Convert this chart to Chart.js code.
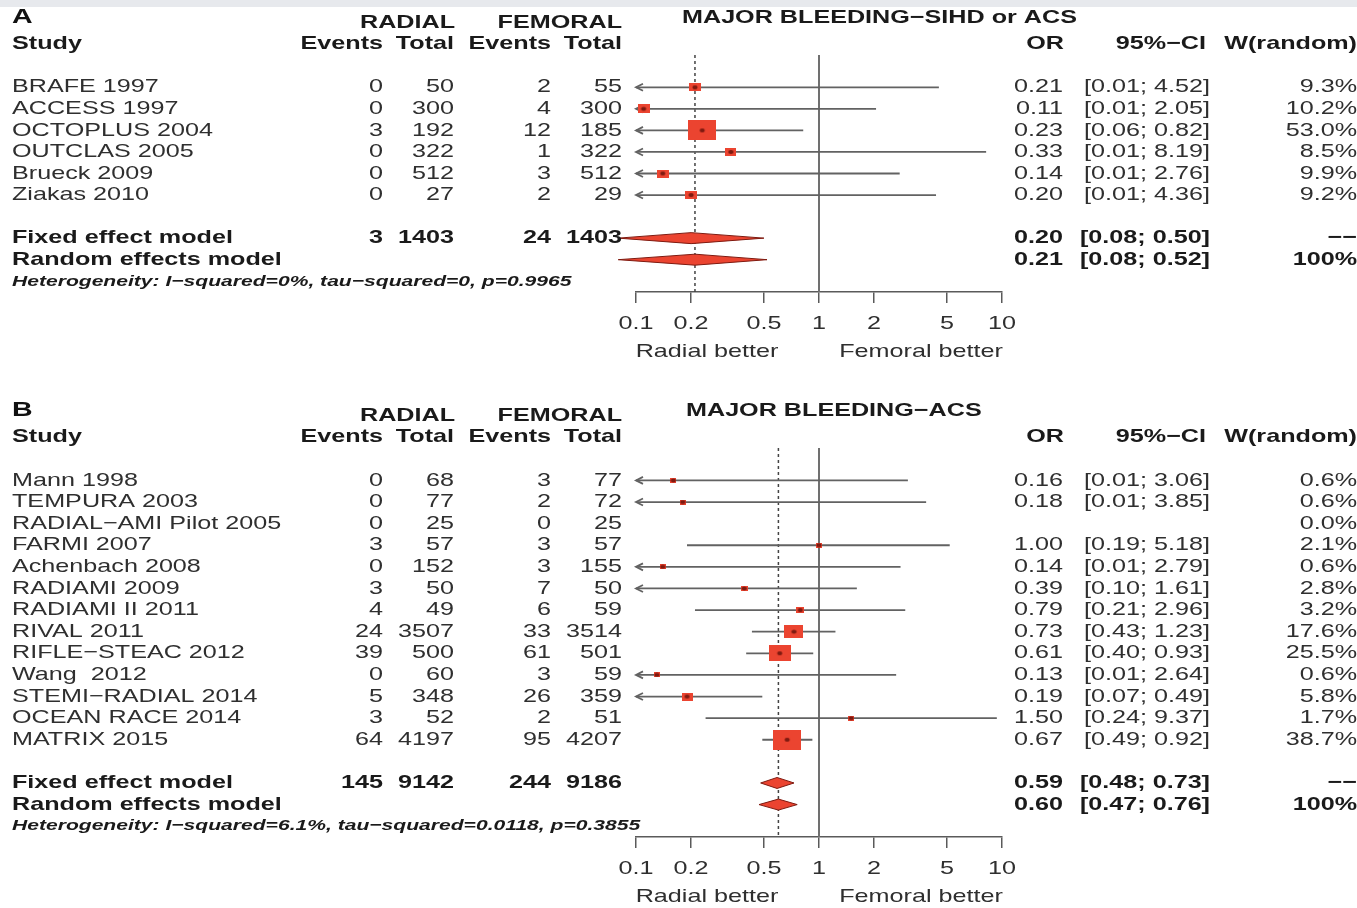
<!DOCTYPE html>
<html>
<head>
<meta charset="utf-8">
<script src="https://cdn.jsdelivr.net/npm/chart.js@4.4.1/dist/chart.umd.min.js"></script>
<style>
  html, body { margin: 0; padding: 0; background: #fff; }
  body { width: 1357px; height: 908px; position: relative; overflow: hidden; }
  .band { position: absolute; left: 0; top: 0; width: 1357px; height: 7px; background: #e7e9ed; }
  canvas { position: absolute; left: 0; }
  #panelA { top: 0; }
  #panelB { top: 390px; }
</style>
</head>
<body>
<div class="band"></div>
<canvas id="panelA" width="1357" height="390"></canvas>
<canvas id="panelB" width="1357" height="518"></canvas>
<script>
// ---- panel A: major bleeding, SIHD or ACS ----
const studiesA = ['BRAFE 1997', 'ACCESS 1997', 'OCTOPLUS 2004', 'OUTCLAS 2005', 'Brueck 2009', 'Ziakas 2010'];
const radEventsA = [0, 0, 3, 0, 0, 0];
const radTotalA = [50, 300, 192, 322, 512, 27];
const femEventsA = [2, 4, 12, 1, 3, 2];
const femTotalA = [55, 300, 185, 322, 512, 29];
const orA = [0.21, 0.11, 0.23, 0.33, 0.14, 0.20];
const loA = [0.01, 0.01, 0.06, 0.01, 0.01, 0.01];
const hiA = [4.52, 2.05, 0.82, 8.19, 2.76, 4.36];
const weightA = [9.3, 10.2, 53.0, 8.5, 9.9, 9.2];
const fixedA = [0.20, 0.08, 0.50];
const randomA = [0.21, 0.08, 0.52];
const totalsA = [3, 1403, 24, 1403];
const hetA = 'Heterogeneity: I\u2212squared=0%, tau\u2212squared=0, p=0.9965';

// ---- panel B: major bleeding, ACS ----
const studiesB = ['Mann 1998', 'TEMPURA 2003', 'RADIAL\u2212AMI Pilot 2005', 'FARMI 2007', 'Achenbach 2008',
  'RADIAMI 2009', 'RADIAMI II 2011', 'RIVAL 2011', 'RIFLE\u2212STEAC 2012', 'Wang  2012',
  'STEMI\u2212RADIAL 2014', 'OCEAN RACE 2014', 'MATRIX 2015'];
const radEventsB = [0, 0, 0, 3, 0, 3, 4, 24, 39, 0, 5, 3, 64];
const radTotalB = [68, 77, 25, 57, 152, 50, 49, 3507, 500, 60, 348, 52, 4197];
const femEventsB = [3, 2, 0, 3, 3, 7, 6, 33, 61, 3, 26, 2, 95];
const femTotalB = [77, 72, 25, 57, 155, 50, 59, 3514, 501, 59, 359, 51, 4207];
const orB = [0.16, 0.18, null, 1.00, 0.14, 0.39, 0.79, 0.73, 0.61, 0.13, 0.19, 1.50, 0.67];
const loB = [0.01, 0.01, null, 0.19, 0.01, 0.10, 0.21, 0.43, 0.40, 0.01, 0.07, 0.24, 0.49];
const hiB = [3.06, 3.85, null, 5.18, 2.79, 1.61, 2.96, 1.23, 0.93, 2.64, 0.49, 9.37, 0.92];
const weightB = [0.6, 0.6, 0.0, 2.1, 0.6, 2.8, 3.2, 17.6, 25.5, 0.6, 5.8, 1.7, 38.7];
const fixedB = [0.59, 0.48, 0.73];
const randomB = [0.60, 0.47, 0.76];
const totalsB = [145, 9142, 244, 9186];
const hetB = 'Heterogeneity: I\u2212squared=6.1%, tau\u2212squared=0.0118, p=0.3855';

const tickValues = [0.1, 0.2, 0.5, 1, 2, 5, 10];
const tickLabels = ['0.1', '0.2', '0.5', '1', '2', '5', '10'];

// the original figure is stretched sideways, so text is drawn wider than tall
const SX = 1.36;
const FAM = '"Liberation Sans", Arial, Helvetica, sans-serif';
const REG = '18.5px ' + FAM;
const BOLD = 'bold 18.5px ' + FAM;
const INK = '#2f2f2f';
const INK_B = '#1a1a1a';
const RED = '#eb4430';
const RED_DARK = '#7e1a10';
const GREY = '#626262';

// column anchors (right edges unless noted)
const COL = { study: 12, radEv: 383, radTot: 454, femEv: 551, femTot: 622, or: 1063, ci: 1210, w: 1357 };

function txt(ctx, s, x, y, align, font, color) {
  ctx.save();
  ctx.translate(x, y);
  ctx.scale(SX, 1);
  ctx.font = font;
  ctx.fillStyle = color;
  ctx.textAlign = align;
  ctx.textBaseline = 'middle';
  ctx.fillText(s, 0, 0);
  ctx.restore();
}

const boxCache = {};
function boxImage(w, maxW) {
  const key = w + '/' + maxW;
  if (boxCache[key]) return boxCache[key];
  const h = Math.max(4.5, 19.5 * Math.sqrt(w / maxW));
  const bw = h * 1.42;
  const c = document.createElement('canvas');
  c.width = Math.round(bw);
  c.height = Math.round(h);
  const g = c.getContext('2d');
  g.fillStyle = RED;
  g.fillRect(0, 0, c.width, c.height);
  g.fillStyle = RED_DARK;
  g.beginPath();
  g.ellipse(c.width / 2, c.height / 2, 2.6, 2, 0, 0, Math.PI * 2);
  g.fill();
  boxCache[key] = c;
  return c;
}

function fmt2(v) { return v.toFixed(2); }

function forestPlugin(p) {
  return {
    id: 'forest',
    beforeDatasetsDraw(chart) {
      const ctx = chart.ctx, xs = chart.scales.x, ys = chart.scales.y, a = chart.chartArea;
      ctx.save();
      // line of no effect
      ctx.strokeStyle = '#707070';
      ctx.lineWidth = 2;
      const x1 = xs.getPixelForValue(1);
      ctx.beginPath(); ctx.moveTo(x1, a.top); ctx.lineTo(x1, a.bottom); ctx.stroke();
      // random effects estimate
      ctx.strokeStyle = '#444';
      ctx.lineWidth = 1.5;
      ctx.setLineDash([3, 3]);
      const xr = xs.getPixelForValue(p.random[0]);
      ctx.beginPath(); ctx.moveTo(xr, a.top); ctx.lineTo(xr, a.bottom); ctx.stroke();
      ctx.setLineDash([]);
      // confidence intervals
      ctx.strokeStyle = GREY;
      ctx.lineWidth = 1.8;
      p.or.forEach((v, i) => {
        if (v == null) return;
        const y = ys.getPixelForValue(i);
        const clipped = p.lo[i] <= 0.1;
        const xa = xs.getPixelForValue(Math.max(p.lo[i], 0.1));
        const xb = xs.getPixelForValue(Math.min(p.hi[i], 10));
        ctx.beginPath(); ctx.moveTo(xa, y); ctx.lineTo(xb, y); ctx.stroke();
        if (clipped) {
          ctx.beginPath();
          ctx.moveTo(xa + 7, y - 3.5); ctx.lineTo(xa, y); ctx.lineTo(xa + 7, y + 3.5);
          ctx.stroke();
        }
      });
      ctx.restore();
    },
    afterDraw(chart) {
      const ctx = chart.ctx, xs = chart.scales.x, ys = chart.scales.y, a = chart.chartArea;
      const n = p.studies.length;
      // pooled diamonds
      [p.fixed, p.random].forEach((d, k) => {
        const y = ys.getPixelForValue(n + 1 + k);
        const xl = xs.getPixelForValue(d[1]), xm = xs.getPixelForValue(d[0]), xh = xs.getPixelForValue(d[2]);
        ctx.save();
        ctx.beginPath();
        ctx.moveTo(xl, y); ctx.lineTo(xm, y - 5.5); ctx.lineTo(xh, y); ctx.lineTo(xm, y + 5.5); ctx.closePath();
        ctx.fillStyle = RED; ctx.fill();
        ctx.strokeStyle = RED_DARK; ctx.lineWidth = 1; ctx.stroke();
        ctx.restore();
      });

      // headers
      txt(ctx, p.letter, 12, ys.getPixelForValue(-3.25), 'left', 'bold 21px ' + FAM, '#111');
      txt(ctx, 'RADIAL', 455, ys.getPixelForValue(-3), 'right', BOLD, INK_B);
      txt(ctx, 'FEMORAL', 622, ys.getPixelForValue(-3), 'right', BOLD, INK_B);
      txt(ctx, p.title, p.titleX, ys.getPixelForValue(-3.2), 'left', BOLD, INK_B);
      const yh = ys.getPixelForValue(-2);
      txt(ctx, 'Study', COL.study, yh, 'left', BOLD, INK_B);
      txt(ctx, 'Events', COL.radEv, yh, 'right', BOLD, INK_B);
      txt(ctx, 'Total', COL.radTot, yh, 'right', BOLD, INK_B);
      txt(ctx, 'Events', COL.femEv, yh, 'right', BOLD, INK_B);
      txt(ctx, 'Total', COL.femTot, yh, 'right', BOLD, INK_B);
      txt(ctx, 'OR', COL.or + 1, yh, 'right', BOLD, INK_B);
      txt(ctx, '95%\u2212CI', COL.ci - 4, yh, 'right', BOLD, INK_B);
      txt(ctx, 'W(random)', COL.w, yh, 'right', BOLD, INK_B);

      // study rows
      p.studies.forEach((s, i) => {
        const y = ys.getPixelForValue(i);
        txt(ctx, s, COL.study, y, 'left', REG, INK);
        txt(ctx, String(p.radEv[i]), COL.radEv, y, 'right', REG, INK);
        txt(ctx, String(p.radTot[i]), COL.radTot, y, 'right', REG, INK);
        txt(ctx, String(p.femEv[i]), COL.femEv, y, 'right', REG, INK);
        txt(ctx, String(p.femTot[i]), COL.femTot, y, 'right', REG, INK);
        if (p.or[i] != null) {
          txt(ctx, fmt2(p.or[i]), COL.or, y, 'right', REG, INK);
          txt(ctx, '[' + fmt2(p.lo[i]) + '; ' + fmt2(p.hi[i]) + ']', COL.ci, y, 'right', REG, INK);
        }
        txt(ctx, p.weight[i].toFixed(1) + '%', COL.w, y, 'right', REG, INK);
      });

      // pooled rows
      const yf = ys.getPixelForValue(n + 1), yr = ys.getPixelForValue(n + 2);
      txt(ctx, 'Fixed effect model', COL.study, yf, 'left', BOLD, INK_B);
      txt(ctx, String(p.totals[0]), COL.radEv, yf, 'right', BOLD, INK_B);
      txt(ctx, String(p.totals[1]), COL.radTot, yf, 'right', BOLD, INK_B);
      txt(ctx, String(p.totals[2]), COL.femEv, yf, 'right', BOLD, INK_B);
      txt(ctx, String(p.totals[3]), COL.femTot, yf, 'right', BOLD, INK_B);
      txt(ctx, fmt2(p.fixed[0]), COL.or, yf, 'right', BOLD, INK_B);
      txt(ctx, '[' + fmt2(p.fixed[1]) + '; ' + fmt2(p.fixed[2]) + ']', COL.ci, yf, 'right', BOLD, INK_B);
      txt(ctx, '\u2212\u2212', COL.w, yf, 'right', BOLD, INK_B);
      txt(ctx, 'Random effects model', COL.study, yr, 'left', BOLD, INK_B);
      txt(ctx, fmt2(p.random[0]), COL.or, yr, 'right', BOLD, INK_B);
      txt(ctx, '[' + fmt2(p.random[1]) + '; ' + fmt2(p.random[2]) + ']', COL.ci, yr, 'right', BOLD, INK_B);
      txt(ctx, '100%', COL.w, yr, 'right', BOLD, INK_B);
      txt(ctx, p.het, COL.study, ys.getPixelForValue(n + 3), 'left', 'italic bold 15.5px ' + FAM, INK_B);

      // axis labels
      tickValues.forEach((v, i) => {
        txt(ctx, tickLabels[i], xs.getPixelForValue(v), a.bottom + 32, 'center', REG, INK);
      });
      txt(ctx, 'Radial better', 707, a.bottom + 60, 'center', REG, INK);
      txt(ctx, 'Femoral better', 921, a.bottom + 60, 'center', REG, INK);
    }
  };
}

function makePanel(id, p, padTop, padBottom) {
  const maxW = Math.max(...p.weight);
  const pts = [];
  const styles = [];
  p.or.forEach((v, i) => {
    if (v == null) return;
    pts.push({ x: v, y: i });
    styles.push(boxImage(p.weight[i], maxW));
  });
  new Chart(document.getElementById(id), {
    type: 'scatter',
    data: {
      datasets: [{
        data: pts,
        pointStyle: styles,
        pointRadius: 10,
        pointHoverRadius: 10,
        clip: false
      }]
    },
    options: {
      responsive: false,
      animation: false,
      events: [],
      layout: { padding: { left: 636, right: 355, top: padTop, bottom: padBottom } },
      plugins: { legend: { display: false }, tooltip: { enabled: false } },
      scales: {
        x: {
          type: 'logarithmic',
          min: 0.1,
          max: 10,
          afterBuildTicks: (s) => { s.ticks = tickValues.map(v => ({ value: v })); },
          afterFit: (s) => { s.height = 40; },
          grid: { drawOnChartArea: false, drawTicks: true, tickLength: 11, color: '#5a5a5a', lineWidth: 1.5 },
          border: { display: true, color: '#5a5a5a', width: 1.5 },
          ticks: { color: 'rgba(0,0,0,0)', autoSkip: false, maxRotation: 0, callback: () => '' }
        },
        y: {
          type: 'linear',
          reverse: true,
          min: -1.5,
          max: p.studies.length + 3.5,
          display: false
        }
      }
    },
    plugins: [forestPlugin(p)]
  });
}

makePanel('panelA', {
  letter: 'A', title: 'MAJOR BLEEDING\u2212SIHD or ACS', titleX: 682,
  studies: studiesA, radEv: radEventsA, radTot: radTotalA, femEv: femEventsA, femTot: femTotalA,
  or: orA, lo: loA, hi: hiA, weight: weightA, fixed: fixedA, random: randomA, totals: totalsA, het: hetA
}, 55, 58);

makePanel('panelB', {
  letter: 'B', title: 'MAJOR BLEEDING\u2212ACS', titleX: 686,
  studies: studiesB, radEv: radEventsB, radTot: radTotalB, femEv: femEventsB, femTot: femTotalB,
  or: orB, lo: loB, hi: hiB, weight: weightB, fixed: fixedB, random: randomB, totals: totalsB, het: hetB
}, 58, 31);
</script>
</body>
</html>
